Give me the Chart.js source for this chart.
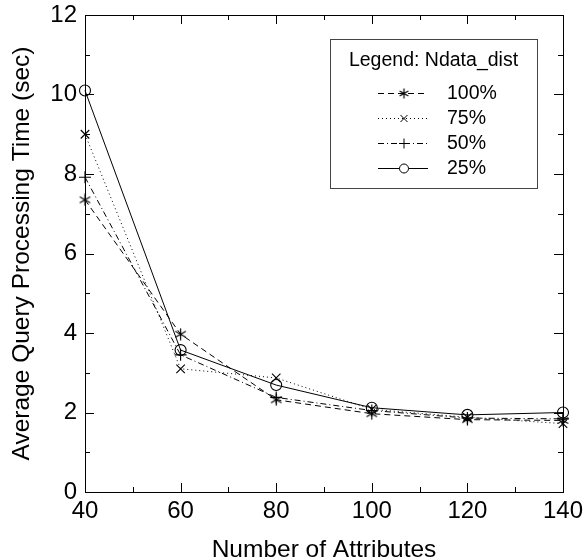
<!DOCTYPE html>
<html>
<head>
<meta charset="utf-8">
<script src="https://cdn.jsdelivr.net/npm/chart.js@4.4.0/dist/chart.umd.min.js"></script>
<style>
  body { margin: 0; background: #fff; }
</style>
</head>
<body>
<canvas id="myChart" width="584" height="560"></canvas>
<script>
var attrs = [40, 60, 80, 100, 120, 140];
var t100 = [7.35, 3.97, 2.32, 1.97, 1.82, 1.80];
var t75  = [9.00, 3.10, 2.87, 2.08, 1.88, 1.72];
var t50  = [7.92, 3.45, 2.38, 2.05, 1.86, 1.84];
var t25  = [10.1, 3.57, 2.69, 2.12, 1.94, 2.00];
var seriesNames = ['100%', '75%', '50%', '25%'];
var legendTitle = 'Legend: Ndata_dist';

var FONT = "'Liberation Sans', Arial, sans-serif";

// six armed asterisk, the built-in 'star' has eight
function asterisk(size) {
  var c = document.createElement('canvas');
  c.width = size; c.height = size;
  var g = c.getContext('2d');
  var h = size / 2;
  g.strokeStyle = '#000';
  g.lineWidth = 1.2;
  for (var i = 0; i < 3; i++) {
    var a = Math.PI / 2 + i * Math.PI / 3;
    g.beginPath();
    g.moveTo(h + Math.cos(a) * (h - 0.5), h - Math.sin(a) * (h - 0.5));
    g.lineTo(h - Math.cos(a) * (h - 0.5), h + Math.sin(a) * (h - 0.5));
    g.stroke();
  }
  return c;
}

function pts(arr) {
  return arr.map(function (v, i) { return { x: attrs[i], y: v }; });
}

var styles = [
  { dash: [6, 4], point: asterisk(13), legendPoint: asterisk(11), radius: 6 },
  { dash: [1, 3], point: 'crossRot', legendPoint: 'crossRot', radius: 6 },
  { dash: [6, 3, 1, 3], point: 'cross', legendPoint: 'cross', radius: 6 },
  { dash: [], point: 'circle', legendPoint: 'circle', radius: 5.5 }
];
var values = [t100, t75, t50, t25];

var datasets = values.map(function (v, i) {
  return {
    label: seriesNames[i],
    data: pts(v),
    borderColor: '#000',
    backgroundColor: 'rgba(0,0,0,0)',
    borderWidth: 1,
    borderDash: styles[i].dash,
    pointStyle: styles[i].point,
    pointRadius: styles[i].radius,
    pointBorderWidth: 1.1,
    pointBorderColor: '#000',
    pointBackgroundColor: 'rgba(0,0,0,0)',
    tension: 0,
    clip: false
  };
});

// frame with inward ticks on all four sides
var frameTicks = {
  id: 'frameTicks',
  beforeDatasetsDraw: function (chart) {
    var ctx = chart.ctx, a = chart.chartArea;
    var xs = chart.scales.x, ys = chart.scales.y;
    ctx.save();
    ctx.strokeStyle = '#000';
    ctx.lineWidth = 1;
    ctx.strokeRect(Math.round(a.left) + 0.5, Math.round(a.top) + 0.5,
      Math.round(a.right - a.left), Math.round(a.bottom - a.top));
    ctx.beginPath();
    for (var v = 40; v <= 140; v += 10) {
      var len = v % 20 === 0 ? 9 : 5;
      var px = Math.round(xs.getPixelForValue(v)) + 0.5;
      ctx.moveTo(px, a.bottom); ctx.lineTo(px, a.bottom - len);
      ctx.moveTo(px, a.top); ctx.lineTo(px, a.top + len);
    }
    for (var w = 0; w <= 12; w += 1) {
      var l2 = w % 2 === 0 ? 9 : 5;
      var py = Math.round(ys.getPixelForValue(w)) + 0.5;
      ctx.moveTo(a.left, py); ctx.lineTo(a.left + l2, py);
      ctx.moveTo(a.right, py); ctx.lineTo(a.right - l2, py);
    }
    ctx.stroke();
    ctx.restore();
  }
};

// boxed legend inside the plot
var boxLegend = {
  id: 'boxLegend',
  afterDraw: function (chart) {
    var ctx = chart.ctx;
    var bx = 330, by = 39, bw = 207, bh = 149;
    ctx.save();
    ctx.fillStyle = '#fff';
    ctx.fillRect(bx, by, bw, bh);
    ctx.strokeStyle = '#444';
    ctx.lineWidth = 1;
    ctx.strokeRect(bx + 0.5, by + 0.5, bw, bh);
    ctx.font = '19.5px ' + FONT;
    ctx.textBaseline = 'middle';
    ctx.textAlign = 'center';
    ctx.fillStyle = '#000';
    ctx.fillText(legendTitle, bx + bw / 2, by + 22);
    ctx.textAlign = 'left';
    chart.data.datasets.forEach(function (ds, i) {
      var y = by + 54 + i * 25;
      ctx.strokeStyle = '#000';
      ctx.lineWidth = 1;
      ctx.setLineDash(ds.borderDash);
      ctx.beginPath();
      ctx.moveTo(378, y + 0.5); ctx.lineTo(428, y + 0.5);
      ctx.stroke();
      ctx.setLineDash([]);
      ctx.fillStyle = '#fff';
      Chart.helpers.drawPoint(ctx, {
        pointStyle: styles[i].legendPoint, radius: ds.pointRadius - 1,
        borderWidth: 1, rotation: 0
      }, 404, y + 0.5);
      ctx.fillStyle = '#000';
      ctx.fillText(ds.label, 447, y + 1);
    });
    ctx.restore();
  }
};

new Chart(document.getElementById('myChart'), {
  type: 'line',
  data: { datasets: datasets },
  options: {
    responsive: false,
    animation: false,
    layout: { padding: { top: 15, right: 21, left: 0, bottom: 0 } },
    plugins: { legend: { display: false }, tooltip: { enabled: false } },
    scales: {
      x: {
        type: 'linear', min: 40, max: 140,
        grid: { display: false, drawTicks: false },
        border: { display: false },
        ticks: { stepSize: 20, color: '#000', padding: 5, font: { family: FONT, size: 24 } },
        title: { display: true, text: 'Number of Attributes', color: '#000',
          font: { family: FONT, size: 24.5, lineHeight: 0.8 }, padding: { top: 0, bottom: 0 } },
        afterFit: function (s) { s.height = 68; s.paddingLeft = 0; s.paddingRight = 0; }
      },
      y: {
        min: 0, max: 12,
        grid: { display: false, drawTicks: false },
        border: { display: false },
        ticks: { stepSize: 2, color: '#000', padding: 8, font: { family: FONT, size: 24 } },
        title: { display: true, text: 'Average Query Processing Time (sec)', color: '#000',
          font: { family: FONT, size: 24.5, lineHeight: 1 }, padding: { top: 10, bottom: 0 } },
        afterFit: function (s) { s.width = 85; s.paddingTop = 0; s.paddingBottom = 0; }
      }
    }
  },
  plugins: [frameTicks, boxLegend]
});
</script>
</body>
</html>
